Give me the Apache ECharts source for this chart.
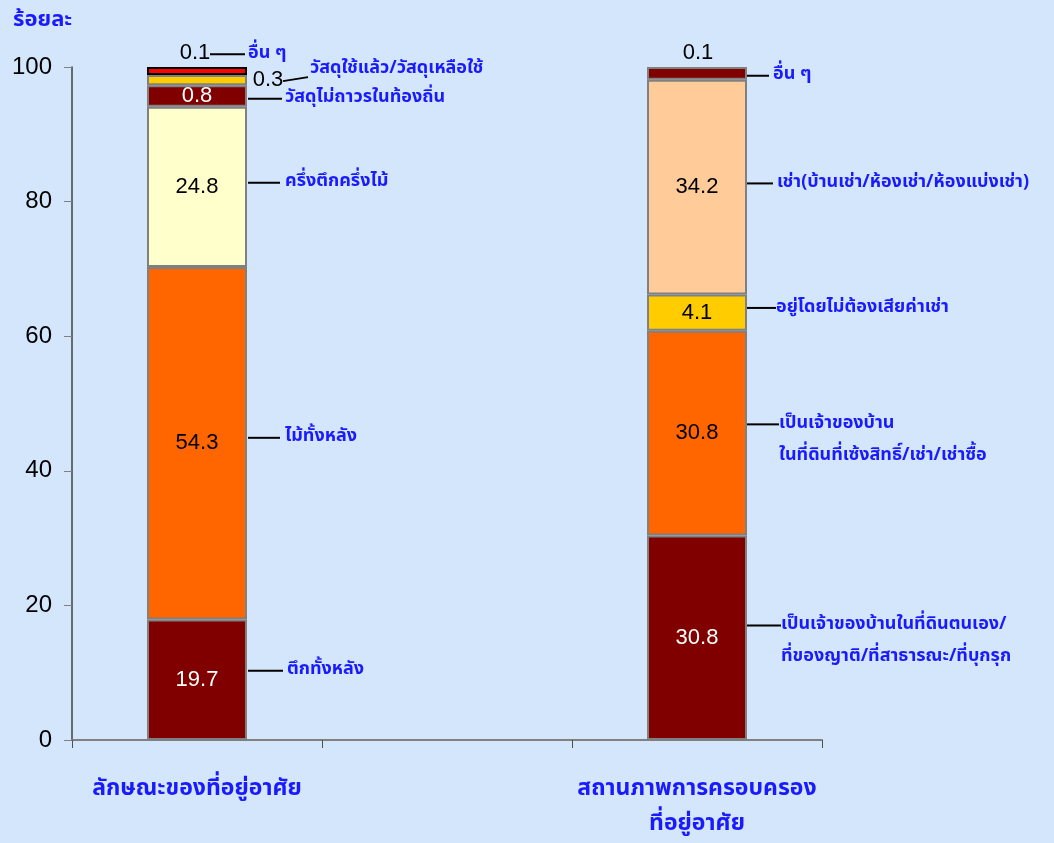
<!DOCTYPE html>
<html>
<head>
<meta charset="utf-8">
<script src="https://cdn.jsdelivr.net/npm/echarts@6/dist/echarts.min.js"></script>
<style>
  html, body { margin: 0; padding: 0; background: #D3E6FC; overflow: hidden; }
  #chart { width: 1054px; height: 843px; }
</style>
</head>
<body>
<div id="chart"></div>
<script>
// ---- data ----
const categories = ['ลักษณะของที่อยู่อาศัย', '', 'สถานภาพการครอบครอง\nที่อยู่อาศัย'];
const yTicks = [0, 20, 40, 60, 80, 100];

// ลักษณะของที่อยู่อาศัย (bottom -> top)
const typeNames = ['ตึกทั้งหลัง', 'ไม้ทั้งหลัง', 'ครึ่งตึกครึ่งไม้', 'วัสดุไม่ถาวรในท้องถิ่น', 'วัสดุใช้แล้ว/วัสดุเหลือใช้', 'อื่น ๆ'];
const typeValues = [19.7, 54.3, 24.8, 0.8, 0.3, 0.1];        // printed percentages
const typeHeights = [17.9, 52.4, 23.8, 3.2, 1.5, 1.2];       // segment heights as drawn in the picture

// สถานภาพการครอบครองที่อยู่อาศัย (bottom -> top)
const tenureNames = ['เป็นเจ้าของบ้านในที่ดินตนเอง/\nที่ของญาติ/ที่สาธารณะ/ที่บุกรุก', 'เป็นเจ้าของบ้าน\nในที่ดินที่เซ้งสิทธิ์/เช่า/เช่าซื้อ', 'อยู่โดยไม่ต้องเสียค่าเช่า', 'เช่า(บ้านเช่า/ห้องเช่า/ห้องแบ่งเช่า)', 'อื่น ๆ'];
const tenureValues = [30.8, 30.8, 4.1, 34.2, 0.1];
const tenureHeights = [30.4, 30.4, 5.4, 31.9, 1.9];

// ---- styling / layout ----
const THAI = "'Noto Sans Thai', 'Noto Sans Thai UI', 'TlwgTypo', 'Garuda', 'Loma', Tahoma, sans-serif";
const NUM = "'Liberation Sans', Arial, sans-serif";
const BLUE = '#1a1aff';
const typeColors = ['#800000', '#FF6600', '#FFFFCC', '#800000', '#FFCC00', '#FF0000'];
const typeLabelColors = ['#fff', '#000', '#000', '#fff', null, null];
const tenureColors = ['#800000', '#FF6600', '#FFCC00', '#FFCC99', '#800000'];
const tenureLabelColors = ['#fff', '#000', '#000', '#000', null];

// annotation anchors (y value where leader line sits) and pixel offsets from bar centre
const typeAnchors = [10.3, 44.9, 82.8, 95.3, 97.9, 101.9];
const typeLayout = [
  {x0: 51, x1: 86, tx: 90},
  {x0: 51, x1: 83, tx: 88},
  {x0: 51, x1: 83, tx: 88},
  {x0: 51, x1: 85, tx: 88},
  {x0: 86, y0: 0, x1: 111, y1: -4, tx: 113, ty: -12},
  {x0: 13, x1: 48, tx: 51}
];
const tenureAnchors = [17.0, 46.9, 64.2, 82.7, 98.7];
const tenureLayout = [
  {x0: 50, x1: 84, tx: 84},
  {x0: 50, x1: 82, tx: 82},
  {x0: 50, x1: 79, tx: 79},
  {x0: 50, x1: 76, tx: 80},
  {x0: 50, x1: 72, tx: 76}
];
// value labels drawn outside small segments: [category, anchor value, text, dx, dy]
const outsideLabels = [
  [0, 97.9, typeValues[4], 71, -1],
  [0, 101.9, typeValues[5], -2, -1],
  [2, 101.9, tenureValues[4], 1, -1]
];

const series = [];
typeHeights.forEach((h, i) => {
  series.push({
    name: typeNames[i], type: 'bar', stack: 'all', barWidth: 100,
    data: [h, '-', '-'],
    itemStyle: {color: typeColors[i], borderColor: i === 5 ? '#000' : '#808080', borderWidth: 2},
    label: {
      show: typeLabelColors[i] !== null, position: 'inside',
      formatter: () => typeValues[i].toFixed(1),
      color: typeLabelColors[i] || '#000', fontSize: 22, fontFamily: NUM
    },
    emphasis: {disabled: true}, animation: false
  });
});
tenureHeights.forEach((h, i) => {
  series.push({
    name: tenureNames[i], type: 'bar', stack: 'all', barWidth: 100,
    data: ['-', '-', h],
    itemStyle: {color: tenureColors[i], borderColor: '#808080', borderWidth: 2},
    label: {
      show: tenureLabelColors[i] !== null, position: 'inside',
      formatter: () => tenureValues[i].toFixed(1),
      color: tenureLabelColors[i] || '#000', fontSize: 22, fontFamily: NUM
    },
    emphasis: {disabled: true}, animation: false
  });
});

const annData = [];
typeNames.forEach((n, i) => annData.push([0, typeAnchors[i], i, 0]));
tenureNames.forEach((n, i) => annData.push([2, tenureAnchors[i], i, 1]));

series.push({
  type: 'custom', coordinateSystem: 'cartesian2d', clip: false, z: 10, silent: true, animation: false,
  data: annData,
  renderItem: function (params, api) {
    const i = api.value(2), g = api.value(3);
    const L = g === 0 ? typeLayout[i] : tenureLayout[i];
    const text = g === 0 ? typeNames[i] : tenureNames[i];
    const p = api.coord([api.value(0), api.value(1)]);
    const lh = 32;
    return {
      type: 'group',
      children: [
        {type: 'line', shape: {x1: p[0] + L.x0, y1: p[1] + (L.y0 || 0), x2: p[0] + L.x1, y2: p[1] + (L.y1 || 0)},
         style: {stroke: '#000', lineWidth: 2}},
        {type: 'text', x: p[0] + L.tx, y: p[1] + (L.ty || 0) - lh / 2,
         style: {text: text, fill: BLUE, font: 'bold 18px ' + THAI, align: 'left', verticalAlign: 'top', lineHeight: lh}}
      ]
    };
  }
});
series.push({
  type: 'custom', coordinateSystem: 'cartesian2d', clip: false, z: 10, silent: true, animation: false,
  data: outsideLabels.map(d => [d[0], d[1], d[2], d[3], d[4]]),
  renderItem: function (params, api) {
    const p = api.coord([api.value(0), api.value(1)]);
    return {
      type: 'text', x: p[0] + api.value(3), y: p[1] + api.value(4),
      style: {text: api.value(2).toFixed(1), fill: '#000', font: 'normal 22px ' + NUM, align: 'center', verticalAlign: 'middle'}
    };
  }
});

const chart = echarts.init(document.getElementById('chart'));
chart.setOption({
  backgroundColor: '#D3E6FC',
  animation: false,
  title: {text: 'ร้อยละ', left: 8, top: 6, textStyle: {color: BLUE, fontSize: 22, fontWeight: 'bold', fontFamily: THAI}},
  grid: {left: 72, right: 232, top: 67, bottom: 100, containLabel: false},
  xAxis: {
    type: 'category', data: categories,
    axisLine: {lineStyle: {color: '#808080', width: 2}},
    axisTick: {show: true, interval: 0, length: 8, lineStyle: {color: '#505050'}},
    axisLabel: {interval: 0, color: BLUE, fontSize: 23, fontWeight: 'bold', fontFamily: THAI, margin: 33, lineHeight: 35}
  },
  yAxis: {
    type: 'value', min: yTicks[0], max: yTicks[yTicks.length - 1], interval: 20,
    axisLine: {show: true, lineStyle: {color: '#404040', width: 1.5}},
    axisTick: {show: true, length: 8, lineStyle: {color: '#808080'}},
    axisLabel: {color: '#000', fontSize: 24, fontFamily: NUM, margin: 20},
    splitLine: {show: false}
  },
  series: series
});
</script>
</body>
</html>
